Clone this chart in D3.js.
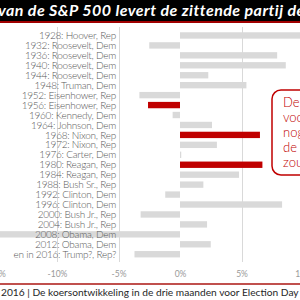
<!DOCTYPE html>
<html>
<head>
<meta charset="utf-8">
<script src="https://cdn.jsdelivr.net/npm/d3@7"></script>
<style>
  html, body { margin: 0; padding: 0; background: #fff; overflow: hidden; }
  svg { display: block; }
</style>
</head>
<body>
<script>
const elections = [
  '1928: Hoover, Rep', '1932: Roosevelt, Dem', '1936: Roosevelt, Dem', '1940: Roosevelt, Dem',
  '1944: Roosevelt, Dem', '1948: Truman, Dem', '1952: Eisenhower, Rep', '1956: Eisenhower, Rep',
  '1960: Kennedy, Dem', '1964: Johnson, Dem', '1968: Nixon, Rep', '1972: Nixon, Rep',
  '1976: Carter, Dem', '1980: Reagan, Rep', '1984: Reagan, Rep', '1988: Bush Sr., Rep',
  '1992: Clinton, Dem', '1996: Clinton, Dem', '2000: Bush Jr., Rep', '2004: Bush Jr., Rep',
  '2008: Obama, Dem', '2012: Obama, Dem', 'en in 2016: Trump?, Rep?'
];
// koersontwikkeling in % (drie maanden voor Election Day)
const returns = [
  10.5, -2.5, 7.9, 8.6, 2.3, 5.4, -3.3, -2.6, -0.6, 2.6, 6.5, 3.0,
  0.1, 6.7, 4.8, 1.9, -1.2, 8.3, -3.2, 2.2, -16, 2.5, -3.7
];
// jaren waarin de zittende partij verloor
const highlighted = ['1956: Eisenhower, Rep', '1968: Nixon, Rep', '1980: Reagan, Rep'];
const tickValues = [-15, -10, -5, 0, 5, 10];
const gridValues = [-10, -5, 5, 10];
const title = 'Het rendement van de S&P 500 levert de zittende partij de overwinning op';
const titleVisibleFrom = 'van de S&P';
const noteLines = ['De S&P 500', 'voorspelde', 'nog nooit', 'de afloop', 'zou het'];
const footer = '2016 | De koersontwikkeling in de drie maanden voor Election Day';

const width = 300;
const height = 300;
const data = elections.map((label, i) => ({ label, value: returns[i] }));

const svg = d3.select('body').append('svg')
  .attr('width', width)
  .attr('height', height);

const x = d3.scaleLinear()
  .domain([-15, 10])
  .range([-4.5, 303]);

const y = d3.scaleBand()
  .domain(elections)
  .range([28.7, 261])
  .padding(0.36);

// gridlines
svg.append('g')
  .selectAll('line')
  .data(gridValues)
  .join('line')
  .attr('x1', d => Math.round(x(d)) + 0.5)
  .attr('x2', d => Math.round(x(d)) + 0.5)
  .attr('y1', 27)
  .attr('y2', 262)
  .attr('stroke', '#d9d9d9')
  .attr('stroke-width', 1);

// bars
svg.append('g')
  .selectAll('rect')
  .data(data)
  .join('rect')
  .attr('x', d => x(Math.min(0, d.value)))
  .attr('y', d => y(d.label))
  .attr('width', d => Math.abs(x(d.value) - x(0)))
  .attr('height', y.bandwidth())
  .attr('fill', d => highlighted.includes(d.label) ? '#c00000' : '#d9d9d9');

// category labels
svg.append('g')
  .selectAll('text')
  .data(data)
  .join('text')
  .attr('x', 116)
  .attr('y', d => y(d.label) + y.bandwidth() / 2)
  .attr('dy', '0.36em')
  .attr('text-anchor', 'end')
  .attr('font-family', 'Lato, sans-serif')
  .attr('font-weight', 300)
  .attr('font-size', 10)
  .attr('letter-spacing', -0.25)
  .attr('fill', '#595959')
  .text(d => d.label);

// x axis
const axis = svg.append('g')
  .attr('transform', 'translate(0,268)')
  .call(d3.axisBottom(x).tickValues(tickValues).tickSize(0).tickFormat(d => `${d}%`));
axis.select('.domain').remove();
axis.selectAll('text')
  .attr('font-family', 'Lato, sans-serif')
  .attr('font-size', 8.5)
  .attr('fill', '#999');

// title bar
svg.append('rect')
  .attr('x', -2)
  .attr('y', -2)
  .attr('width', width + 4)
  .attr('height', 24)
  .attr('fill', '#000')
  .attr('stroke', '#a00000')
  .attr('stroke-width', 2);
const titleText = svg.append('text')
  .attr('y', 16)
  .attr('font-family', 'Lato, sans-serif')
  .attr('font-weight', 'bold')
  .attr('font-style', 'italic')
  .attr('font-size', 16)
  .attr('letter-spacing', 0.45)
  .attr('fill', '#fff')
  .text(title);
const offset = titleText.node().getSubStringLength(0, title.indexOf(titleVisibleFrom));
titleText.attr('x', -2 - offset);

// annotation
svg.append('rect')
  .attr('x', 272)
  .attr('y', 90)
  .attr('width', 60)
  .attr('height', 85)
  .attr('rx', 9)
  .attr('fill', '#fff')
  .attr('stroke', '#c00000')
  .attr('stroke-width', 1.5);
svg.append('g')
  .selectAll('text')
  .data(noteLines)
  .join('text')
  .attr('x', 283)
  .attr('y', (d, i) => 107 + i * 15)
  .attr('font-family', 'Lato, sans-serif')
  .attr('font-weight', 300)
  .attr('font-size', 13)
  .attr('fill', '#c00000')
  .text(d => d);

// footer
svg.append('line')
  .attr('x1', 0)
  .attr('x2', width)
  .attr('y1', 284)
  .attr('y2', 284)
  .attr('stroke', '#c0504d')
  .attr('stroke-width', 2);
svg.append('text')
  .attr('x', 1)
  .attr('y', 296)
  .attr('font-family', 'Lato, sans-serif')
  .attr('font-size', 10.2)
  .attr('fill', '#262626')
  .text(footer);
</script>
</body>
</html>
